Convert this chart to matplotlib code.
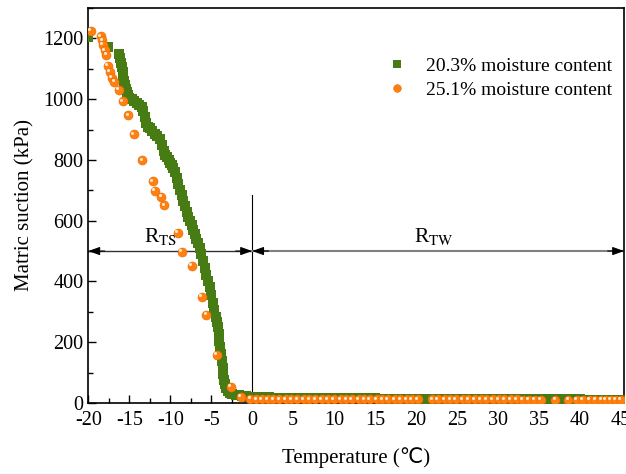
import matplotlib
matplotlib.use("Agg")
import matplotlib.pyplot as plt
from matplotlib.ticker import MultipleLocator
from matplotlib.transforms import offset_copy

plt.rcParams['font.family'] = ['Liberation Serif', 'DejaVu Sans']
plt.rcParams['mathtext.fontset'] = 'stix'
plt.rcParams['axes.unicode_minus'] = False

# 20.3% moisture content
green_x = [-20.0, -17.6,
           -16.2, -16.1, -16.0, -15.9, -15.8, -15.7, -15.6, -15.5, -15.4, -15.3, -15.2, -15.1, -15.0,
           -14.7, -14.4, -14.1, -13.8, -13.5,
           -13.3, -13.1, -12.9, -12.7, -12.5,
           -12.2, -11.9, -11.6, -11.3, -11.0,
           -10.8, -10.6, -10.4, -10.2, -10.0, -9.8, -9.6, -9.4, -9.2, -9.0,
           -8.8, -8.6, -8.4, -8.2, -8.0, -7.8, -7.6, -7.4, -7.2, -7.0,
           -6.8, -6.6, -6.4, -6.2, -6.0, -5.8, -5.6, -5.4, -5.2, -5.0,
           -4.8, -4.6,
           -4.4, -4.3, -4.2, -4.1, -4.0, -3.9, -3.8, -3.7, -3.6, -3.5, -3.4, -3.3, -3.2,
           -3.0, -2.7, -2.4, -2.0, -1.6, -1.2, -0.8, -0.4,
           0, 1, 2, 3, 4, 5, 6, 7, 8, 9, 10, 11, 12, 13, 14, 15, 16, 17, 18, 19,
           20, 21, 22, 23, 24, 25, 26, 27, 28, 29, 30, 31, 32, 33, 34, 35, 36,
           37, 38, 39, 40, 41, 42, 43, 44, 45]
green_y = [1205, 1172,
           1150, 1135, 1120, 1105, 1090, 1075, 1060, 1048, 1035, 1025, 1015, 1010, 1005,
           1000, 995, 988, 982, 975,
           960, 940, 920, 910, 905,
           895, 885, 878, 870, 850,
           830, 815, 810, 800, 790, 782, 775, 760, 740, 720,
           700, 683, 665, 648, 630, 613, 600, 585, 570, 555,
           540, 525, 510, 490, 467, 445, 422, 400, 380, 355,
           330, 305,
           284, 267, 250, 228, 205, 183, 160, 138, 115, 95, 75, 62, 50,
           38, 33, 30, 27, 25, 23, 22, 20,
           19, 18, 18, 17, 17, 17, 16, 16, 16, 16, 15, 15, 15, 15, 15, 15, 14, 14, 14, 14,
           14, 14, 14, 14, 13, 13, 13, 13, 13, 13, 13, 13, 12, 12, 12, 12, 12,
           12, 12, 12, 12, 11, 11, 11, 11, 11]

# 25.1% moisture content
orange_x = [-19.7, -18.5, -18.3, -18.2, -18.0, -17.8, -17.6, -17.4, -17.1, -16.8,
            -16.3, -15.8, -15.1, -14.4, -13.4, -12.1, -11.9, -11.1, -10.7, -9.1,
            -8.6, -7.4, -6.1, -5.6, -4.3, -2.6, -1.4, -0.2,
            0.5, 1.2, 1.9, 2.6, 3.3, 4.1, 4.8, 5.5, 6.3, 7.0, 7.7, 8.5, 9.2, 10.0,
            10.8, 11.5, 12.2, 13.0, 13.7, 14.4, 15.2, 15.9, 16.6, 17.4, 18.1, 18.9,
            19.5, 20.2, 22.0, 22.7, 23.5, 24.2, 24.9, 25.7, 26.4, 27.2, 27.9, 28.6,
            29.4, 30.1, 30.8, 31.6, 32.3, 33.0, 33.8, 34.5, 35.2, 37.0, 38.6, 39.6,
            40.4, 41.2, 41.9, 42.6, 43.2, 43.8, 44.4, 45.0]
orange_y = [1225, 1207, 1194, 1178, 1161, 1145, 1109, 1090, 1071, 1057,
            1030, 993, 947, 884, 799, 730, 698, 679, 651, 560,
            498, 451, 350, 289, 158, 52, 21, 13,
            12, 12, 12, 12, 12, 12, 12, 12, 12, 12, 12, 12, 12, 12,
            12, 12, 12, 12, 12, 12, 12, 12, 12, 12, 12, 12,
            12, 12, 12, 12, 12, 12, 12, 12, 12, 12, 12, 12,
            12, 12, 12, 12, 12, 11, 11, 11, 11, 11, 11, 11,
            11, 11, 11, 11, 11, 11, 11, 11]

green = '#477B14'
orange = '#FF8010'

fig = plt.figure(figsize=(6.26, 4.74), dpi=100)
ax = fig.add_axes([0.141, 0.150, 0.856, 0.833])

ax.plot(green_x, green_y, 's', color=green, markersize=7.5, markeredgewidth=0,
        label='20.3% moisture content', zorder=3)
ax.plot(orange_x, orange_y, 'o', color=orange, markersize=6.5, markeredgecolor='#E86A00',
        markeredgewidth=0.4, label='25.1% moisture content', zorder=4)
hl = offset_copy(ax.transData, fig=fig, x=-1.2, y=1.2, units='points')
ax.plot(orange_x, orange_y, 'o', color='#FFE8D0', markersize=2.2, markeredgewidth=0,
        transform=hl, zorder=5)

# region markers
ax.plot([0, 0], [0, 684], color='black', lw=0.8, zorder=2)
ax.plot([-20, 0], [500, 500], color='#333333', lw=1.0, zorder=2)
ax.plot([0, 45.4], [500, 500], color='#808080', lw=1.5, zorder=2)
head = dict(arrowstyle='-|>,head_length=0.7,head_width=0.25', color='black', lw=0.8,
            shrinkA=0, shrinkB=0)
ax.annotate('', xy=(-20, 500), xytext=(-18, 500), arrowprops=head)
ax.annotate('', xy=(0, 500), xytext=(-2, 500), arrowprops=head)
ax.annotate('', xy=(0, 500), xytext=(2, 500), arrowprops=head)
ax.annotate('', xy=(45.4, 500), xytext=(43.4, 500), arrowprops=head,
            annotation_clip=False)
ax.text(-11.2, 512, r'R$_{\mathrm{TS}}$', fontsize=15.5, ha='center', va='bottom')
ax.text(22.2, 512, r'R$_{\mathrm{TW}}$', fontsize=15.5, ha='center', va='bottom')

ax.set_xlim(-20, 45.4)
ax.set_ylim(0, 1300)
ax.xaxis.set_major_locator(MultipleLocator(5))
ax.xaxis.set_minor_locator(MultipleLocator(2.5))
ax.yaxis.set_major_locator(MultipleLocator(200))
ax.yaxis.set_minor_locator(MultipleLocator(100))
ax.tick_params(which='both', direction='in', top=False, right=False, labelsize=14.5)
ax.tick_params(which='major', length=6, width=1)
ax.tick_params(which='minor', length=3.5, width=1)
ax.tick_params(axis='x', pad=6)
for s in ax.spines.values():
    s.set_linewidth(1.2)

ax.set_xlabel('Temperature (℃)', fontsize=15, labelpad=12)
ax.set_ylabel('Matric suction (kPa)', fontsize=15, labelpad=6)

ax.legend(loc='upper right', bbox_to_anchor=(1.01, 0.92), frameon=False, fontsize=14,
          handletextpad=0.9, handlelength=1.2, labelspacing=0.35, markerscale=0.85)

fig.savefig('out.png', dpi=100)
